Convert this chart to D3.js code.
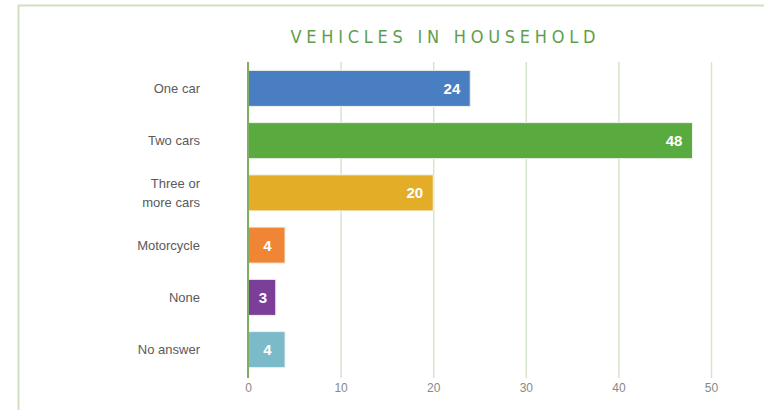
<!DOCTYPE html>
<html>
<head>
<meta charset="utf-8">
<script src="https://cdn.jsdelivr.net/npm/d3@7"></script>
<style>
  html, body { margin: 0; padding: 0; background: #ffffff; }
  svg { display: block; }
</style>
</head>
<body>
<svg id="chart" width="764" height="410"></svg>
<script>
const title = "VEHICLES IN HOUSEHOLD";
const categories = ["One car", "Two cars", "Three or\nmore cars", "Motorcycle", "None", "No answer"];
const values = [24, 48, 20, 4, 3, 4];
const colors = ["#4a7ec2", "#5aab3f", "#e3ad27", "#f08536", "#7b3f99", "#7bbac8"];
const tickValues = [0, 10, 20, 30, 40, 50];

const svg = d3.select("#chart");
const W = 764, H = 410;
svg.append("rect").attr("width", W).attr("height", H).attr("fill", "#fff");

// frame (top and left edges)
svg.append("line").attr("x1", 18).attr("x2", W).attr("y1", 5.5).attr("y2", 5.5)
  .attr("stroke", "#cfe0c2").attr("stroke-width", 2);
svg.append("line").attr("x1", 18.5).attr("x2", 18.5).attr("y1", 5).attr("y2", H)
  .attr("stroke", "#cfe0c2").attr("stroke-width", 2);

const x = d3.scaleLinear().domain([0, 50]).range([248, 711]);
const y = d3.scaleBand().domain(categories).range([62, 376]).paddingInner(0.31).paddingOuter(0.16);

// title
svg.append("text")
  .attr("x", 443).attr("y", 43)
  .attr("text-anchor", "middle")
  .attr("font-family", "'DejaVu Sans Condensed', 'DejaVu Sans', sans-serif")
  .attr("font-size", 18)
  .attr("fill", "#5f9e4c")
  .attr("textLength", 305)
  .attr("lengthAdjust", "spacing")
  .text(title);

// gridlines via axis
const gridAxis = d3.axisBottom(x).tickValues(tickValues).tickSize(-(378 - 62)).tickFormat("");
const grid = svg.append("g").attr("transform", "translate(0,378)").call(gridAxis);
grid.select(".domain").remove();
grid.selectAll(".tick line").attr("stroke", "#d6e5cb").attr("stroke-width", 1.5);

// tick labels via axis
const labelAxis = d3.axisBottom(x).tickValues(tickValues).tickSize(0).tickPadding(0);
const lab = svg.append("g").attr("transform", "translate(0,383)").call(labelAxis);
lab.select(".domain").remove();
lab.selectAll(".tick text")
  .attr("font-family", "'Liberation Sans', Arial, sans-serif")
  .attr("font-size", 12)
  .attr("fill", "#888")
  .attr("dy", "0.71em");

// bars
svg.append("g").selectAll("rect").data(values).join("rect")
  .attr("x", x(0))
  .attr("y", (d, i) => y(categories[i]))
  .attr("width", d => x(d) - x(0))
  .attr("height", y.bandwidth())
  .attr("fill", (d, i) => colors[i])
  .attr("stroke", "#eef3ea")
  .attr("stroke-width", 1);

// axis line at zero
svg.append("line").attr("x1", x(0)).attr("x2", x(0)).attr("y1", 62).attr("y2", 378)
  .attr("stroke", "#7fae63").attr("stroke-width", 2);

// value labels
svg.append("g").selectAll("text").data(values).join("text")
  .attr("x", d => (x(d) - x(0) < 60) ? (x(0) + x(d)) / 2 + 1 : x(d) - 10)
  .attr("y", (d, i) => y(categories[i]) + y.bandwidth() / 2)
  .attr("dy", "0.36em")
  .attr("text-anchor", d => (x(d) - x(0) < 60) ? "middle" : "end")
  .attr("font-family", "'Liberation Sans', Arial, sans-serif")
  .attr("font-weight", "bold")
  .attr("font-size", 15)
  .attr("fill", "#ffffff")
  .text(d => d);

// category labels
const cl = svg.append("g").selectAll("text").data(categories).join("text")
  .attr("x", 200)
  .attr("y", d => y(d) + y.bandwidth() / 2)
  .attr("text-anchor", "end")
  .attr("font-family", "'Liberation Sans', Arial, sans-serif")
  .attr("font-size", 13)
  .attr("fill", "#5a5a5a");
cl.each(function(d) {
  const lines = d.split("\n");
  const t = d3.select(this);
  const lh = 19;
  lines.forEach((ln, k) => {
    t.append("tspan")
      .attr("x", 200)
      .attr("y", y(d) + y.bandwidth() / 2 + (k - (lines.length - 1) / 2) * lh)
      .attr("dy", "0.36em")
      .text(ln);
  });
});
</script>
</body>
</html>
